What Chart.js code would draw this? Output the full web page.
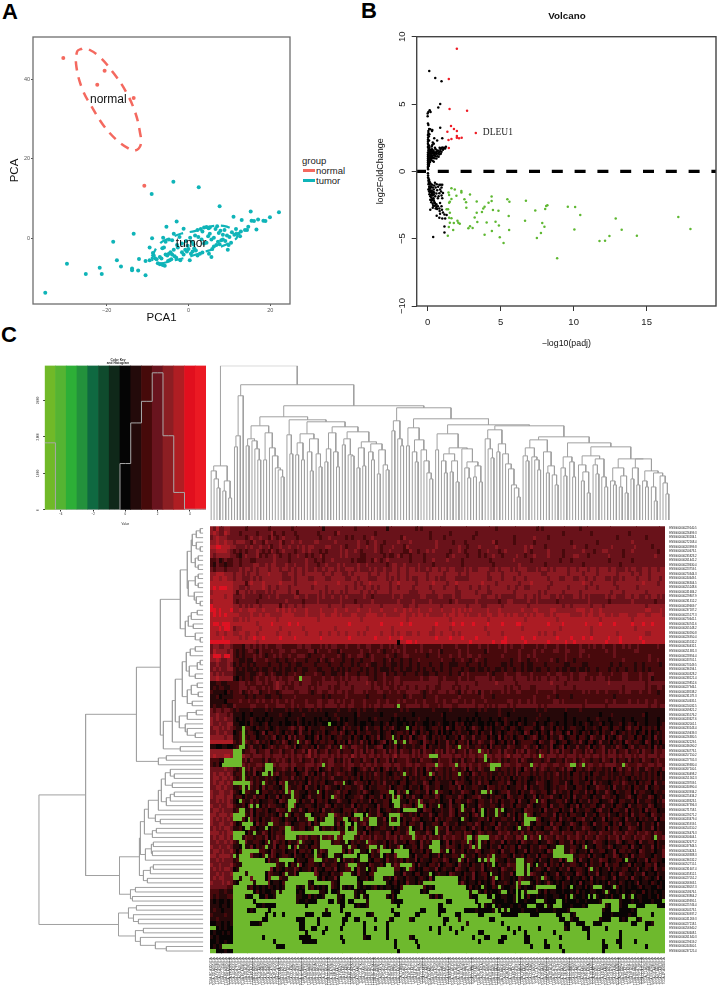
<!DOCTYPE html>
<html>
<head>
<meta charset="utf-8">
<title>PCA, volcano and heatmap</title>
<script src="https://cdn.jsdelivr.net/npm/chart.js@4"></script>
<style>
  html, body { margin: 0; padding: 0; background: #fff; }
  #page { position: relative; width: 720px; height: 987px; overflow: hidden; font-family: "Liberation Sans", Arial, sans-serif; }
  canvas { position: absolute; }
  .letter { position: absolute; font-weight: bold; font-size: 22px; line-height: 22px; color: #000; }
  .leg { position: absolute; font-size: 9.5px; line-height: 10px; color: #222; white-space: nowrap; }
  .swatch { position: absolute; width: 12px; height: 2.5px; }
</style>
</head>
<body>
<div id="page">
  <div class="letter" style="left:2px;top:1px">A</div>
  <div class="letter" style="left:361px;top:0px">B</div>
  <div class="letter" style="left:1px;top:324px">C</div>
  <div class="leg" style="left:302px;top:156px">group</div>
  <div class="swatch" style="left:303px;top:169px;background:#f4695f"></div>
  <div class="leg" style="left:316px;top:166px">normal</div>
  <div class="swatch" style="left:303px;top:179px;background:#0fb4b8"></div>
  <div class="leg" style="left:316px;top:176px">tumor</div>
</div>
<script>
// ---------- panel A: PCA
const pcaTicksX = [-20, 0, 20];
const pcaTicksY = [0, 20, 40];
const pcaNormal = [[-30.6,45.3],[-20.5,42.1],[-22.3,38.6],[-13.4,35.3],[-10.8,13.3]];
const pcaTumor = [[-35,-13.6],[-29.7,-6.3],[-25.1,-8.9],[-21.2,-8.9],[-21.7,-7.3],[-18.4,-0.8],[-17.5,-5.4],[-16.5,-7],[-13.8,-7.5],[-13.8,-7.9],[-12.3,-8],[-10.5,-9.2],[-13.4,1.2],[-12.1,-5.1],[-10.5,-5.6],[-9.5,-5.4],[-8.9,0.1],[-9.5,-2.2],[-9,11.2],[-3.7,14.3],[2.5,12.9],[7.6,8.1],[15.2,6.8],[22.1,6.6],[19.9,5.4],[11,5.5],[13,4.7],[17,4.8],[15.4,4.5],[16,4.4],[18.3,4.5],[18.8,4.4],[16.6,2.3],[14.6,3],[14.3,2.2],[13.8,2.2],[-2.9,4.3],[-5.4,3],
  [-8.7,-3.6],[-8.5,-4.2],[-8.2,-4.9],[-7.8,-5.2],[-7.5,-6.2],[-7,-6.4],[-6.3,-6.6],[-5.8,-6.8],[-7,-4.6],[-6.6,-5],[-6.4,-2.4],[-6,-2.2],[-5.6,-4],[-5.2,-4.2],[-5,-5.6],[-4.6,-5.4],[-4.2,-5.2],[-4.8,-3.8],[-4.4,-3.4],[-4,-4],[-3.6,-2.8],[-3.4,-4.4],[-3,-4.8],[-2.6,-2.2],[-2,-5.4],[-1.6,-3.4],[-1.2,-4],[-0.8,-2.8],[-0.4,-3.2],[0,-2.6],[0.3,-5.4],[0.6,-3.8],[1,-3.2],[1.4,-2.4],[1.8,-3],[2.2,-4.2],[2.8,-3.8],[3.4,-3.5],[3.8,-1.2],[4.4,-1],[5,-3.8],[5.6,-4.6],[5.8,-2.6],[6.2,-2],[6.8,-1.6],[7.2,-0.8],[7.6,-1.4],[8,-0.4],[8.4,-0.2],[9,-0.6],[9.6,-2.8],[9.8,-1.6],[10.4,-1],[4.8,0.6],[5.2,1.2],[5.6,-0.2],[6.2,0.2],[6.6,2.4],[7,3.1],[7.4,1.4],[7.8,2],[8.4,1],[8.8,2.2],[9.4,0.8],[10,0.4],[10.6,1.6],[11.2,1],[11.6,2.4],[12.2,1.2],[12.6,0.6],[12.8,1.8],[1.6,0.8],[2.2,2.2],[3,2.4],[3.4,1.8],[3.8,2.8],[4.4,2.9],[4.9,2.6],[5.2,2.8],[2.4,0.4],[3.2,-0.2],[0.4,0.2],[0.8,-0.8],[-0.6,-0.6],[-1.2,2.5],[-2.2,0.4],[-3.6,1.2],[-4,-0.4],[-4.8,-0.2],[-5.6,-0.8],[-6.2,0.2],[-2.8,-1.6],[-1.6,-1.2],[-0.2,-1.8],[1.2,-1.4]];
const pcaNormalEllipse = [[-26,47.7],[-27.2,47],[-27.4,43.2],[-25.9,37.4],[-23.7,33.2],[-20.9,28.6],[-17.6,24.8],[-14.8,22.7],[-13.1,22.1],[-11.7,23.5],[-11.9,26.9],[-13.1,31.9],[-15.3,36.9],[-18,41.1],[-21.7,45.6],[-24.8,47.7],[-26,47.7]];
const pcaTumorEllipse = [[-9,-4.5],[-7,-1.2],[-4.2,0.3],[-1.7,1.3],[1.5,1.9],[5.2,3],[8.5,3.2],[10.9,2.2],[11.9,0.5],[10.1,-1],[6.8,-2.4],[3.6,-3.4],[0.3,-4.5],[-3.7,-5.5],[-7,-6.2],[-8.6,-5.8],[-9,-4.5]];

// ---------- panel B: volcano
const volcTicksX = [0, 5, 10, 15];
const volcTicksY = [-10, -5, 0, 5, 10];
const volcUp = [[2,9.1],[1.45,6.85],[1.5,4.63],[2.7,4.5],[1.6,3.37],[1.8,3.14],[2,3],[1.35,2.95],[3.3,2.85],[2,2.62],[2,2.5],[1.63,2.4],[1.43,2.33],[2.15,2.45],[2.33,2.5],[1.45,1.73]];
const volcDown = [[1.63,-1.26],[1.86,-1.34],[2.31,-1.46],[2.31,-1.58],[2.9,-1.71],[1.43,-1.58],[1.47,-1.76],[1.97,-1.81],[4.38,-1.86],[1.63,-2.05],[2.52,-2.08],[5.46,-2.08],[6.73,-2.18],[5.6,-2.25],[3.36,-2.23],[4.38,-2.2],[1.52,-2.25],[1.47,-2.33],[2.63,-2.3],[4.17,-2.33],[8.2,-2.52],[8.12,-2.57],[9.6,-2.62],[10.1,-2.65],[3.9,-2.62],[3.81,-2.75],[2.65,-2.7],[8.05,-2.8],[7.37,-2.9],[4.47,-2.87],[4.85,-2.92],[3.72,-3.02],[3.36,-3.07],[1.52,-3.07],[10.45,-3.24],[5.55,-3.32],[3.22,-3.42],[1.47,-3.44],[1.63,-3.49],[1.4,-2.82],[1.3,-2.82],[12.88,-3.51],[17.17,-3.39],[6.67,-3.66],[4.65,-3.74],[2.04,-3.66],[3.4,-3.76],[4.04,-3.79],[2.1,-3.81],[2.2,-3.89],[1.79,-3.84],[1.52,-3.81],[7.85,-3.84],[4.88,-4.03],[8,-4.11],[1.45,-4.13],[2.9,-4.08],[2.79,-4.23],[3.08,-4.2],[5.58,-4.36],[10.05,-4.31],[13.29,-4.33],[18,-4.28],[1.75,-4.36],[4.4,-4.43],[7.76,-4.58],[3.9,-4.7],[1.38,-4.78],[12.45,-4.8],[14.33,-4.78],[4.94,-4.9],[7.48,-4.95],[12.15,-5.15],[11.77,-5.17],[5.2,-5.32],[8.87,-6.46]];
const volcFlat = [[0.11,7.45],[0.52,6.93],[0.95,6.7],[0.86,5],[0.73,4.75],[0.14,4.53],[0.05,4.4],[0.2,4.4],[0,4.3],[0,4.1],[0.86,3.24],[0.02,3.55],[0.05,3.45],[0.1,3.15],[0.18,3.12],[0.05,3],[0.3,3],[0.32,3.08],[0.05,2.85],[0.02,2.7],[0.12,2.75],[0.08,2.6],[0.03,2.5],[0.45,2.45],[1,2.45],[0.02,2.35],[0.1,2.3],[0.65,2.3],[0.02,2.2],[0.35,2.15],[0.42,2.05],[0.02,2.05],[0.05,1.95],[0.1,1.9],[0.32,1.95],[0.28,1.85],[0.82,1.75],[0.92,1.72],[1,1.78],[1.12,1.75],[1.25,1.82],[1.2,1.7],[1.05,1.6],[0.5,1.75],[0.55,1.65],[0.02,1.8],[0.06,1.7],[0.12,1.75],[0.2,1.6],[0.3,1.65],[0.4,1.55],[0.7,1.55],[0.85,1.5],[0.95,1.45],[0.6,1.45],[0.45,1.42],[0.35,1.48],[0.25,1.45],[0.15,1.5],[0.05,1.55],[0.02,1.4],[0.1,1.35],[0.18,1.32],[0.28,1.3],[0.38,1.32],[0.5,1.3],[0.62,1.28],[0.72,1.34],[0.8,1.25],[0.9,1.3],[0.02,1.25],[0.08,1.2],[0.14,1.18],[0.22,1.2],[0.32,1.16],[0.42,1.18],[0.52,1.14],[0.66,1.12],[0.75,1.08],[0.02,1.1],[0.06,1.05],[0.12,1.03],[0.2,1.05],[0.28,1],[0.38,1],[0.48,0.98],[0.6,0.95],[0.02,0.95],[0.05,0.9],[0.1,0.88],[0.16,0.9],[0.24,0.85],[0.34,0.78],[0.42,0.72],[0.02,0.8],[0.05,0.75],[0.1,0.72],[0.16,0.7],[0.02,0.65],[0.05,0.6],[0.1,0.55],[0.02,0.5],[0.05,0.45],[0.08,0.4],[0.02,0.35],[0.02,0.25],[0.03,0.15],
  [0.02,-0.15],[0.03,-0.3],[0.03,-0.45],[0.06,-0.55],[0.1,-0.65],[0.05,-0.7],[0.14,-0.8],[0.08,-0.85],[0.2,-0.9],[0.12,-0.95],[0.3,-1],[0.5,-0.85],[0.62,-0.95],[0.8,-1],[0.9,-1],[1,-1],[0.45,-1.05],[0.18,-1.1],[0.25,-1.18],[0.12,-1.25],[0.35,-1.2],[0.55,-1.2],[0.72,-1.15],[0.95,-1.2],[0.05,-1.35],[0.15,-1.4],[0.28,-1.42],[0.42,-1.35],[0.65,-1.4],[0.85,-1.35],[0.92,-1.5],[0.18,-1.55],[0.3,-1.6],[0.45,-1.58],[0.6,-1.65],[0.8,-1.62],[1.05,-1.6],[0.12,-1.7],[0.22,-1.75],[0.35,-1.8],[0.52,-1.85],[0.75,-1.85],[0.95,-1.8],[0.25,-1.95],[0.4,-2],[0.18,-2.1],[0.3,-2.15],[0.42,-2.15],[0.7,-2],[1,-2],[0.25,-2.3],[0.5,-2.35],[0.35,-2.4],[0.6,-2.45],[0.85,-2.35],[0.48,-2.55],[0.6,-2.65],[0.7,-2.6],[0.55,-2.75],[0.65,-2.8],[0.8,-2.75],[0.95,-2.6],[0.18,-2.85],[0.35,-2.7],[0.82,-2.95],[0.98,-2.85],[1.05,-3.05],[1.15,-3.2],[0.85,-3.15],[1.3,-3.25],[0.62,-3.3],[0.8,-3.45],[1,-3.5],[1.2,-3.5],[1.15,-4.1],[0.38,-4.88],[1.15,-4.55],
  [0.08,1.62],[0.16,1.42],[0.24,1.55],[0.34,1.38],[0.46,1.22],[0.56,1.38],[0.66,1.52],[0.78,1.42],[0.88,1.62],[1.1,1.7],[0.22,1.12],[0.3,1.08],[0.12,1.45],[0.04,1.15],[0.15,0.98],[0.07,0.82],[0.06,-0.95],[0.1,-1.15],[0.16,-1.28],[0.22,-1.5],[0.1,-1.5],[0.38,-1.52],[0.28,-1.72],[0.18,-1.85],[0.42,-1.7],[0.32,-2.05],[0.24,-2.15],[0.45,-2.28],[0.38,-2.55],[0.55,-2.5]];
const volcCutoff = [[-0.75,0],[19.75,0]];

// ---------- panel C: colour key
const keyValues = [-4.667,-4,-3.333,-2.667,-2,-1.333,-0.667,0,0.667,1.333,2,2.667,3.333,4,4.667];
const keyColors = ['rgb(112,185,40)','rgb(85,180,50)','rgb(45,175,55)','rgb(35,145,60)','rgb(15,105,65)','rgb(15,75,45)','rgb(15,40,25)','rgb(5,5,5)','rgb(35,10,10)','rgb(70,10,10)','rgb(105,20,30)','rgb(140,30,35)','rgb(175,30,35)','rgb(225,15,30)','rgb(235,25,35)'];
const keyCounts = [1836,0,0,0,0,0,0,1270,2380,2970,3750,2030,480,20,20];
const keyTicksX = [-4,-2,0,2,4];
const keyTicksY = [0,1000,2000,3000];

// ---------- panel C: heatmap, 0 = black .. 6 = bright red
const cellColors = ['rgb(8,4,4)','rgb(38,8,9)','rgb(72,9,12)','rgb(105,18,26)','rgb(140,26,34)','rgb(172,28,36)','rgb(222,18,34)'];
const lowColor = 'rgb(110,185,45)';
const heatRows = [
// 0
'43533443333323333333233333332333333333313333333333233333333331333333333232333333333333333333333333323333333333333232333333333333233333333333333333333333333333',
'45433543332333332333342332333233333332333332433333333333323333333333333333332333333233333333233333333333333333333333333333233333333323333333333332333333333333',
'34544433333323433433243234333323333333233433333232333233433333333324333333332333323333333332333333333333323333334333323333333333333333333333323333333332333333',
'44544544344433243324333342334334333344333334333333343323343323333433343333333343333323332333333333423333323333332333333333333233333333233333333333433333333333',
'55665554433343433433423343343343434433334433343233343343343233343332433333333343333333433233343333343333333334343333233333333343332333333334333333343333323333',
'44555543232323334323243234333233434333232333343433432333343233433332243323343433333233432333323343332343333334323333343333233333343332334433333233433333333233',
'43444443321343334232334323323343323233423333343433332233333323223423323333233333332343333233323233433233334332334333343333233344333233333343333233333333334333',
'22312322332333223333334333323333343323323343333332322233243234333333323333233433334333323333333332333333343333323333333332333233333333333323333333233333333333',
'21322122332333344334344333433433343332334333434333343343333332344334333343333233333333323333333333233333333433333333233333333333323333333333332333333333333333',
'32333233334344343444344434434344343343343443433444343334343343344344344343343443443443334343344443343444343444333434434344443443444344344434433343443344344344',
// 10
'44555444344343443444544443344344344444434434443343444443443443444344344444434444434444344344444434444344444344444443344444443444434444344444434444344344344444',
'45545544344333434344444443334344443344443344444334434443334443434344343344434434334443333344444433444344434443444444434443344433443443444334334344443444344434',
'55555555444424544454444454444344444454444444544444343445444444344544444344444544443445444444445444434444444344454444443444444444454434444444344444444454444344',
'56566655443343444454344344434444444344443444444344344344343444344344443444443444434443444434434434444443443443344444434444443444443444344444434444443444444444',
'45555555424434343334343444434424444444343434434344443443434444344444433344444344444443344444344433444444434444444434344444344444344444444443444344444443444444',
'55555455333433333233433433333443343334343343343433333433233333343343333334433334433343344444443344434333334443443434443343433344343433333434433344344334344343',
'45555555323333332333333333433333233334333333343333233333433333333433334333334333333234333333433333332334433333433433333323333333333433333323333333433333332333',
'65555555443434344344444424344344344444444344443444443444444344444443344344444444344444444344443344444344444444344444444444344344444434443444444444444443444444',
'66565556445445554454444545454544454444544445444544454445444544445445454454445444544454545454444454445444444454445544445544444445554454454444444444444445544454',
'56565655554444544545544445555444454444554455454445544455554454444455445455454444454554554544454455445545455445454555445455555444454554455445445554445554455554',
// 20
'55555555445454555555555455555555555554555555555555554555555555555555455555555555555455555555555545555555555554555555555545555555555555545555555555455555555555',
'56656665555555554555565555565565555555555555555565555555555655555565565555555565555565565556555565555655556655555555565555655555556555565555655555655565565555',
'55565665344555555455555545555555455555555554555555555545555555545555555555555455555455555555555455555555555545555555555554555555555545555555555555545555555555',
'55455455445544554555555455545555545555455455455455545455555455545455445545554455455545455555555545555455555555555545455455555555555545555555545555555554455555',
'55556555554545565565555565555655555555655555555565555555565555655565555555555565555655565555655555555565555565556555555565555655565565555565556555555655555555',
'66666665555555554555555555555555555555555555555555555555555555555055665655555555555555555565555555655665555556555555565555565565555555555655556555555565555555',
'34433443222133232323222332222233233222323233222322232233222322323223222223222222322223222322232232223232322232222322322232232222322323223222322323223222222322',
'35444434212123321322232233223322223313222322132222223223223212232323222323223223122222322322222132222232222322223223222332233222332222222322322222233222222222',
'46664664212122232321223232232233321222232222321232233212322223221223322222212223222322322332232222222322222322323222222222232222322322222222322222222222322222',
'44543344221121132223222122122322212221321232221221221222322212312212212232222222322212232212322122222222122322122322223212232212222222222222222322222222322322',
// 30
'33433343121221212222122212212211222212222122212221212232112212211212212212221222122111222122212122222112122212112222122222211222211222222221221222212212222212',
'34343344212121121211221212112122112221122212121212221212212111212212112212122122122122212211211212211212212212112112212212112112112122122212212212212212122222',
'43434333211122112321232112122322122232212211221322212212212231221221222122112212222122132322222232122232223322232222232233222322333222232223222332222322332222',
'44544444102122123223233232233222333222232232232323323332212232223322222223223332232222322322333332322233323333232323323323332322332232333232222332222322312222',
'11221122223323223323223433232332333223233333233233333343232232323323333333333332333332333333233333343333332333333333334333323333333333333343333333333332333333',
'12122112223332332232323432322333332323333232233332333333233233223233233233323322333323233233333333333323233233322333333323333323333333333333333233333332322332',
'21111021223123233122322123333223332123322332332322333232223322322322333332123223332332132332313223222323223322222322222322222222232322322322223233222322322122',
'11201111222212212221122212222322222222212122222322222212222212222221232222122232222222322222223222122222222222223222232212222122222222222222122222222222222222',
'11111022223223223232232322323222232223322332323223222322223223222323222322322232232233223223222322222223322322323222222332322222223222222322322223223223223222',
'12112211322222332223222333223232233323323333233233222323233233332322333332332223233322333333233232323332323333333323233333333333323333333233333333333333233233',
// 40
'32332332121111211112121111212112112121211111211121121211121111111121211111111211111211111211121211112111121111111211211111121111211111111111111111111111111111',
'33433323111011011110111121101111211111110112111111021111111011112111110111111111201111111111011111112110111111111121111111101111111111101112111111111120111111',
'43433433101011210101101111011121011101011011201011011110121111101010111121101111101111011010101110110121111010111211101111101101111011211101111011011110111011',
'43343344110010211012011101001021010101100100101211010011011012011001010211001012100102120101100101021021010210112011012101101101012101120110112012102110111012',
'34434343211322102112101211123213202111221112013121120131122021231011202212101221203102212013210212011210221012221013112021201221102112102210221023122021212022',
'33433433012112210130221210212013112012120122132012021122112012201221203102120120201021211201202113012012212103201202103122013021021201202113201212120120201212',
'44444344112021220112123012031312201023021201221120210201213012201202130122310212120112032113112202103021201220123201202113201220221032113021023112202201203112',
'55555555212132123121201213201232132021221220212031213120201230212120132210321202113120221302132113201202130122221032113201220121310220131120212032122103201202',
'11001100123012311201232122321301221203112312113213322131123301213012112112302112113212122311221203122113221123212301213012302113112302123112132102311221203121',
'44444444323122331223312231223122314231223122312221323132312231323132213231322132313231223132213231223132213231322132213231322132213231223132312231223132213223',
// 50
'45444554332433233323323332323233234232333232323324323323323233234233323232332332333323323233233233233234233323323234233323323332323323323233323233232332333233',
'22211100212231322213122323213223122312322331213231221322131223131222321213222113222312131223122113223121223132112221231122132231232212213221312213122132212322',
'21200000222323223323233233323322233323332332223233223233232233323322332332233323322333233232232233323233223322233323322332233332322332232333322332223322332332',
'33333433212023132213131223213022132123012312212231012321312023121321212312032132212132123032132112321221213203213123212212313202212321221213023123123113212213',
'34344343122112130122122312112201231202131212322121021212132121012121212312022312212122121203212212112121213122212122121231212022121202211212112122122121212021',
'34434434212021212112121012213121202122121231112212120212122121212212021212212021212122121012121212021212021212101212121221212122120212112212121210212121212121',
'34344343221201312122112032211212103121220113221101322120212131121022012211320122111203221102131220112213102212011322101221131022112203121101221321120212203112',
'33443433112210212031221102121122031120213211021221123102112221301221021120231122011221302112211032212120112213021122101212231102212011322120311212022113012211',
'43344334210122113022112121031221102113202112312201121321011222110312201221130212211021132210211322101223112021132112201312112022113120211321021122031221102112',
'43444344122021131220211302112221013112202113212011223102211302112120213110221132012211320112231102122103211220113021223110212031122102113221201123102211320121',
// 60
'33434343102211312011221032112120211302212011321102212113021122013211021203112212011302211321022113120211220311022113201122131020211312201123102211203112210213',
'43343344211203112021322110212301122102113202112113021221103122012113220211302112201311220211032112210311202211320112203112210213021122013112022103112211320112',
'34434333120211302212011322102113102212031121102221311202113012211203212110322011211320212113021021132201121103221120311220211302112210231120221130211203122011',
'44344434011221302112121031120221132011221103212120311022113201122031121202113102211320211202311021122103120211320112211302120221103112022131102120311221032112',
'43434343112201312021132210211031122120211301221102311220121130221102113220112031212211032101122130211221130210211320112203112102231120113021221031120212113022',
'43344334201122103121102211320112213021102211302120112310221121302112022113011221032112011221320112203112112021310221103122011321022103112210213022113021120311',
'34343443112031220113021122103112201213021120211302211032011221130211220113021102213021122013120211032121102211302110221320112021132210112031220113221021130211',
'44434344211302121132021221131022103212211321022113221302122113202211321221132022113212213220132122113223122131221322113221322213221322132221322132213223213221',
'34344343122132212213021322132213231221322321322132213223132213223132221322313223132232213231322132232132213322132231322132213223213221322132231322132232213223',
'33433434212031122102113212021132211021320112211302121103221120213112022103121122013021122130211202211302112032112201132102211302120113221021132012210311220211',
// 70
'43343343110211302120113022110321120221130211021132201121031220211320112203112102113221021130221102113021220311021132201120311221032110221132011220311021130212',
'34434334202113011221032112011302212011321021122031121102213021102211302112021132211031120211320112210311220113021121032210211320112031122011302212110321120113',
'44344443011220311021132012210311021132201121103212201130211202113012210311220113021122103112021132011221031120211302211032112011221302110211320120311221102113',
'33434333120113021120311220113021102213012112203112011321022103112120211302110221132011220311021130221102113201221031102113021220311021132201122031102113022110',
'43343334211032110221130211202113012211031122011302121103211202113201122031102213012210311202113021102113221031120211302120311221013021120311220113021102213011',
'34343443011203112201130210211320112031102213011221031120211302112201132010221130121103211022113012110321120211301221031102113012210311201130211220113012103112',
'33434334102113011210321102211301211032011021130121031102201130121103110220113012110321102113012203110211301121032110201130121103210211301102103211021130110211',
'34344333011021301120310121101301210311020113011210301120113011203110211012103011210311012013011201310211010321101210310121013011021030112101301120311012101301',
'43334343100211012101301102110130121010311021012101310110210131012010311021010321010210131011020101301121010311010210131010211010301120101031102101013011021010',
'33333322011001201010210101020110101201010021011010210100120101101020100110201010021011001020101100210100110201001020110100210101102010011001020101001201100210',
// 80
'22211211100110102010011010021001010200110100101200101001102001010010110020100101001020110010010201001100102001010010201100100102010011001020010100110020101001',
'21211122010010011002001001010011002010010100110020100101001001020010011001001020100100110010020100100110010010200100100110020010010100100102001001001100100201',
'10100101001001000100100100010010010001001000100100100010010100010001001000100100010010001001000100100010010001000100100010010001001000010010001000100100010001',
'11101101000100100010000100100001000100100010000100010010000100100001000100010010000100001001000100001000100100001000010010000100010000100100001000100001001000',
'12110111100000100001000100000100001000001000100000100001000001000100000100001000001000100000100000100010000010000100000100001000001000001000100000100000100001',
'21111211000100000100000010000100000001000010000001000000100001000000100000010000100000010000000100001000000100000010000100000010000100000001000001000000100000',
'11211111000001000000100000000100000010000000010000001000000000100000010000000100000000100000100000000010000001000000000100000100000000010000000100000100000000',
'00110101010000000100000000001000000000100000000010000000001000000000010000000001000000000100000000001000000000010000000001000000000100000000000100000000010000',
'10010100000000100000000000100000000000010000000000100000000000100000000001000000000000100000000000010000000000100000000000010000000000100000000000010000000000',
'01001010000000000001000000000000000100000000000000010000000000000100000000000000010000000000000001000000000000000100000000000000001000000000000000100000000000',
// 90
'10100000000000001000000000000000000100000000000000000100000000000000010000000000000000100000000000000000100000000000000010000000000000000010000000000000000100',
'00100100000000000000010000000000000000000010000000000000000000100000000000000000001000000000000000000000100000000000000000001000000000000000000100000000000000',
'01010000000000000000000000000100000000000000000000000000100000000000000000000000001000000000000000000000000010000000000000000000000100000000000000000000000000',
'00000100000000000000000000000000000000000000000000000000000000000000100000000000000000000000000000000000000000000000000000000000000000000000100000000000000000'
];
// green cells: row, then start,end column pairs
const lowCells = [
[33,31,31],[39,65,65],[43,41,41],[44,11,11,68,68],[45,11,11],[46,11,11,63,63],[47,11,11,30,30,64,64,67,67],[48,10,11,45,45,86,86],[49,8,10,93,93],
[50,8,10,76,78,95,95,114,114],[51,5,10,95,95],[52,4,10,19,21,39,39,78,78,85,85,97,100,111,111,125,126,129,129,143,143],[53,11,11,19,21,97,98],
[54,11,11,18,19,21,21,67,67,76,76,86,86],[55,11,11],[56,8,13,18,18,26,26,46,46],[57,11,11,13,13,26,26],[58,11,11,16,16,26,26,28,28,37,37,62,63,68,68,78,78,94,95,97,97],
[59,28,28,42,42,63,63,65,65],[60,10,10,27,29,63,65,72,72,113,113],[61,14,14,16,16,27,28,64,65,72,73,79,79,87,87],[62,10,11,27,27,67,71,87,87,94,94,99,99,101,101],
[63,8,11,26,26,33,34,41,42,50,52,54,54,62,65,94,94,99,99,109,109],[64,8,10,13,13,34,35,40,42,46,47,52,52,55,57,62,62,65,65,87,87,109,112],
[65,11,14,20,21,38,42,47,48,50,50,55,57,62,65,109,110],[66,12,13,19,19,26,27,36,37,47,47,50,50,69,69,78,78,107,107],
[67,8,11,15,15,26,36,37,44,47,50,69,70,78,78],[68,8,10,26,29,38,38,43,43,46,49,70,70,89,90,93,96,109,109,114,114,154,154],
[69,10,11,20,20,31,31,38,41,47,47,54,54,77,79,89,89,93,93],[70,11,11,19,19,27,27,30,30,38,45,48,48,55,57,59,59,66,66,76,79,91,91,93,93,120,121,122,122,130,130],
[71,11,16,36,36,41,45,50,51,55,55,59,62,64,68,77,79,82,82,119,122],[72,8,8,10,13,19,19,36,36,41,42,46,50,52,54,59,59,65,68,87,87,98,98,119,122,123,125],
[73,10,18,24,28,36,38,44,44,52,54,86,86,93,93,95,95,97,98,106,108,124,125,144,144],[74,11,22,26,26,30,30,48,50,61,62,66,69,98,98,106,108,110,110,113,113],
[75,10,20,49,49,54,54,58,63,68,68,106,108,110,110,132,132],[76,8,11,13,18,26,26,31,35,46,48,57,63,76,76,97,97,106,108,110,110],
[77,8,9,11,13,15,18,21,23,27,36,45,50,57,59,78,85,99,99,115,115],[78,10,14,16,19,26,33,36,41,45,50,53,60,74,77,78,85,106,106,108,110],
[79,8,12,26,29,33,33,41,41,45,45,50,50,67,73,78,88,94,94,100,100,106,106,113,119,125,125,133,135,140,140],
[80,8,14,23,23,25,29,33,37,41,41,45,49,54,62,66,72,76,89,91,92,101,102,106,106,108,108,110,113,137,137],
[81,8,11,15,16,23,29,40,43,47,49,52,52,55,60,65,75,81,89,93,95,98,98,106,106,108,108,125,125,131,131,133,133,143,143,146,146],
[82,8,14,16,29,37,40,43,43,47,47,50,53,55,62,67,81,84,91,93,97,106,106,113,115,120,121,136,138,139,141,157,157],
[83,8,15,23,32,34,44,47,49,55,64,66,78,81,92,94,94,98,98,110,112,116,116,119,121,131,136,139,141,145,147,151,154],
[84,8,12,16,19,21,39,41,44,46,62,64,72,75,78,82,87,99,99,101,101,103,103,125,135,139,141,148,157],
[85,8,18,20,21,23,24,26,32,36,38,42,46,49,53,57,63,66,70,73,78,80,84,87,92,95,100,107,110,114,119,122,124,127,135,148,152,154,157],
[86,8,17,20,29,33,36,38,45,48,49,52,56,58,61,64,68,71,80,83,85,87,96,99,120,123,124,128,134,139,141,145,147,150,157],
[87,8,13,18,30,33,36,38,45,47,52,54,60,62,80,82,88,90,100,102,122,125,126,130,132,136,145,148,150,154,157],
[88,0,1,8,30,33,34,37,39,41,44,46,52,54,56,58,60,62,75,77,78,80,82,84,86,88,102,104,106,108,113,115,122,125,128,132,136,138,150,152,157],
[89,8,32,34,38,40,52,54,60,62,78,80,84,86,92,95,104,106,108,110,118,120,130,132,141,143,157],
[90,8,17,19,30,35,44,46,52,56,60,62,68,71,90,92,94,97,100,103,108,111,120,122,130,132,141,143,157],
[91,8,21,23,31,37,45,47,63,65,70,72,92,94,99,102,108,111,115,117,135,137,140,143,146,148,157],
[92,4,7,8,22,26,63,65,71,73,110,112,115,118,120,122,135,138,141,143,150,152,157],
[93,0,1,8,64,66,121,123,135,137,157]
];

// leaf labels
const rowIds = ['229140.5','226499.3','233184.1','272168.4','203999.8','250673.1','235823.2','261441.2','228630.4','223759.1','270344.3','244649.1','236304.5','255248.6','241684.2','229807.9','231312.2','249669.7','237187.2','225177.3','270641.1','234741.6','265148.2','230590.8','226950.4','245532.2','230432.1','251381.3','228956.4','243701.1','273149.5','236194.1','260328.2','238121.4','229852.6','227946.1','248538.2','231178.3','254635.1','224032.5','269821.2','235576.2','243627.6','262001.1','233143.4','259439.3','226380.5','232229.1','246090.2','234773.1','257150.2','227705.3','239380.4','267100.1','230498.2','251562.3','228709.1','240990.4','263934.2','225434.2','248323.1','237396.3','271758.1','229271.2','243479.4','235919.1','254510.2','226476.3','260604.1','232677.2','247844.5','224424.1','268388.3','236532.2','252715.1','231607.4','245812.1','227051.2','266903.1','238057.3','258676.1','233864.2','249395.1','225746.4','264573.1','230937.2','241269.3','227218.1','256940.2','234608.1','261340.3','229619.2','244300.1','237125.4'];
const rowLabels = rowIds.map(id => 'ENSG00000' + id);
const colIds = ['BC-A10Q','DD-A1EG','FV-A23B','ES-A2HT','CC-5258','BD-A3ER','DD-A39W','EP-A26S','G3-A25X','ED-A7PX','DD-A1EJ','BC-A10W','DD-A116','FV-A3R2','BD-A2L6','CC-A3M9','ED-A5KG','G3-AAV4','DD-AAE9','BC-A3KF','UB-AA0V','RC-A7S9','ZP-A9CV','CC-A7IH','DD-AACS','ES-A2HS','G3-A3CG','EP-A12J','DD-A3A2','CC-A8HT','BD-A3EP','LG-A6GG','RC-A6M4','MI-A75E','DD-AAD8','ED-A8O5','DD-A4NA','ZS-A9CD','BC-A69H','GJ-A6C0','CC-A5UC','DD-A4NF','UB-A7MB','MR-A8JO','DD-AACH','FV-A4ZP','ED-A66Y','G3-AAV6','BC-A216','EP-A3RK','KR-A7K2','DD-AAW3','CC-A7IK','2V-A95S','DD-A1EC','ES-A2HU','RC-A7SK','HP-A5MZ','DD-AAVW','ED-A97K','PD-A5DF','CC-A123','BD-A3EP','DD-AADL','G3-A7M5','LG-A9QC','T1-A6J8','XR-A8TE','DD-A73F','BC-A112','ED-A627','MI-A75C','DD-A4NK','CC-5264','FV-A495','G3-AAV2','DD-AADG','EP-A2KC','O8-A75V','RG-A7D4','DD-AAE3','ZS-A9CG','ES-A2HY','BD-A2L9','CC-A5UD','DD-A115','UB-A7MD','G3-A25V','DD-AAVP','ED-A7XP','K7-AAU7','DD-A3A7','FV-A3I1','BC-A3KG','DD-A11A','CC-A9FU','RC-A6M6','WQ-A9G7','DD-AAD1','G3-AAUZ','ES-A2HX','DD-AACW','ED-A66X','MR-A520','CC-A8HU','BD-A2L7','DD-A1EF','LG-A6GK','TV-A8XZ','DD-AAVQ','EP-A2KA','DD-A3A6','2Y-A9GV','CC-A7IJ','G3-A5SK','DD-AAEB','FV-A3R3','BC-A3KH','DD-A118','RC-A7SH','ED-A7PZ','ZS-A9CF','DD-AACV','UB-A7ME','CC-A8HV','DD-AAE6','ES-A2HV','G3-AAV7','MI-A75G','DD-A4NG','BD-A3EQ','CC-A3MA','DD-AADI','XR-A8TF','DD-A1EH','LG-A6GH','ED-A66Z','DD-AAW0','PD-A5DE','G3-A7M6','DD-A3A3','CC-A3MB','FV-A4ZQ','DD-AACT','BC-A217','DD-A39Z','EP-A3JL','DD-AAD5','RG-A7D5','CC-A1HT','DD-A11C','T1-A6J9','DD-AAE2','ES-A2HW','G3-AAV3','K7-AAU6','DD-A4NJ','ZP-A9D0'];
const colLabels = colIds.map(id => 'TCGA-' + id + '-01A');

// ---------- dendrograms: [height, left, right], 0 is a leaf
const topTree = [154,
  [54,[49,0,[41,0,[32,0,0]]],[39,[29,0,0],[22,0,0]]],
  [135,
    [124,[84,[73,0,0],0],0],
    [114,
      [103,
        [94,[81,[74,0,0],[79,0,[71,0,[60,0,0]]]],[87,[60,0,0],[72,0,[64,0,[52,0,[50,0,[43,0,0]]]]]]],
        [100,[85,0,[66,0,0]],
          [98,[86,[77,[65,0,0],[60,0,0]],[81,[68,0,[49,0,0]],[66,0,[53,0,0]]]],
            [93,[87,[71,[58,0,0],0],[68,0,[53,0,0]]],
              [88,[81,[75,0,0],[65,0,[64,0,0]]],[78,[72,[52,0,0],[54,0,0]],[76,[68,0,[60,0,0]],[70,[46,0,0],[55,0,[50,0,0]]]]]]]]]],
      [112,
        [99,[89,0,0],[81,0,[74,0,0]]],
        [101,
          [92,[74,0,0],[80,[68,0,[58,0,0]],[70,0,[59,0,[47,0,[41,0,0]]]]]],
          [95,
            [86,[70,0,0],[72,[66,[59,0,[47,0,0]],[59,[48,0,0],[38,0,0]]],[71,0,[58,[52,0,[42,0,0]],[54,[43,0,0],[38,0,0]]]]]],
            [94,
              [90,[81,0,[71,0,[62,0,0]]],[76,[68,0,0],[66,0,[56,0,[51,0,[35,0,[32,0,[23,0,0]]]]]]]],
              [83,
                [80,[72,[64,0,[59,0,0]],[63,0,[60,0,[50,0,0]]]],[68,0,[54,[47,0,0],[45,0,[35,0,0]]]]],
                [77,
                  [63,[52,0,[44,0,0]],[58,0,[43,0,0]]],
                  [73,
                    [64,[55,0,[48,[39,0,0],[27,0,0]]],[61,[55,0,[46,0,0]],[43,0,[33,0,0]]]],
                    [61,[52,[39,0,[35,0,0]],[44,[33,0,0],[27,0,0]]],
                      [61,[52,[41,0,0],[35,0,0]],[49,[39,0,[33,0,0]],[47,[33,0,[19,0,0]],[44,0,[37,0,[26,0,0]]]]]]]]]]]]]]]]];

const upperA = [16,[12,[11,[7,[3,0,0],0],[7,0,[3,0,0]]],[8,[5,0,0],[5,0,0]]],[15,[8,[5,0,0],[5,0,0]],[9,0,[7,0,[3,0,0]]]]];
const upperB = [18,[15,[12,[6,0,0],0],[10,0,0]],[8,0,[3,0,0]]];
const upperC = [21,[17,[13,[8,0,0],0],[14,[6,[3,0,0],0],[8,0,0]]],[16,[12,[6,0,0],[5,0,0]],[11,0,0]]];
const upperE = [24,[16,[7,0,0],0],[18,0,[16,0,[8,0,0]]]];
const upperTree = [67,[43,[23,upperA,upperB],[40,[31,[28,upperC,upperE],0],[23,0,0]]],[45,[37,0,0],0]];
const midG = [45,[42,[38,[33,0,[29,0,0]],[31,0,0]],[37,[33,[29,0,0],0],0]],0];
const midTree = [84,[64,[63,[59,[55,midG,[48,0,[43,0,0]]],[51,[47,0,0],0]],[58,[52,[50,0,0],[51,0,0]],0]],[60,[53,[50,0,0],0],[56,0,0]]],[73,[68,0,0],[71,0,0]]];
const lowTree = [85,[75,[67,0,0],[70,0,[65,0,0]]],[68,[60,0,0],[63,0,[48,0,[37,0,0]]]]];
const leftTree = [165,[118,upperTree,midTree],lowTree];

// ---------- helpers
const page = document.getElementById('page');
const sans = '"Liberation Sans", Arial, sans-serif';
const minus = v => String(v).replace('-', '\u2212');
const toXY = p => ({ x: p[0], y: p[1] });

function addCanvas(l, t, w, h) {
  const c = document.createElement('canvas');
  c.width = w; c.height = h;
  c.style.left = l + 'px'; c.style.top = t + 'px';
  c.style.width = w + 'px'; c.style.height = h + 'px';
  page.appendChild(c);
  return c.getContext('2d');
}

// box round the plot and text tied to data values
const panelDeco = {
  id: 'panelDeco',
  afterDatasetsDraw(chart, args, opts) {
    const ctx = chart.ctx, a = chart.chartArea;
    ctx.save();
    if (opts.frame) {
      ctx.strokeStyle = opts.frame;
      ctx.lineWidth = opts.frameWidth || 1;
      ctx.strokeRect(a.left, a.top, a.right - a.left, a.bottom - a.top);
    }
    (opts.tags || []).forEach(t => {
      ctx.font = t.font;
      ctx.fillStyle = t.color || '#111';
      ctx.textAlign = t.align || 'center';
      ctx.textBaseline = 'middle';
      ctx.fillText(t.text, chart.scales.x.getPixelForValue(t.x), chart.scales.y.getPixelForValue(t.y));
    });
    ctx.restore();
  }
};

function fixedAxis(size, extra) {
  return Object.assign({
    afterFit: s => { if (s.isHorizontal()) s.height = size; else s.width = size; }
  }, extra);
}

function setTicks(values) {
  return axis => { axis.ticks = values.map(v => ({ value: v })); };
}

function treeSegments(tree, flip) {
  const pts = [];
  let leaf = 0;
  const add = (x, y) => pts.push(flip ? { x: y, y: x } : { x: x, y: y });
  (function walk(n) {
    if (n === 0) return { pos: leaf++, h: 0 };
    const a = walk(n[1]), b = walk(n[2]);
    add(a.pos, a.h); add(a.pos, n[0]); add(b.pos, n[0]); add(b.pos, b.h);
    pts.push({ x: NaN, y: NaN });
    return { pos: (a.pos + b.pos) / 2, h: n[0] };
  })(tree);
  return { pts: pts, leaves: leaf };
}

function dendroChart(ctx, tree, flip, padding) {
  const t = treeSegments(tree, flip);
  const leafRange = { type: 'linear', display: false, min: -0.5, max: t.leaves - 0.5 };
  const heightRange = { type: 'linear', display: false, min: 0, max: tree[0] };
  new Chart(ctx, {
    type: 'scatter',
    data: { datasets: [{ data: t.pts, showLine: true, spanGaps: false, pointRadius: 0, borderColor: '#a0a0a0', borderWidth: 1 }] },
    options: {
      responsive: false, animation: false, events: [],
      layout: { padding: padding },
      plugins: { legend: { display: false }, tooltip: { enabled: false } },
      scales: flip
        ? { x: Object.assign({}, heightRange, { reverse: true }), y: Object.assign({}, leafRange, { reverse: true }) }
        : { x: leafRange, y: heightRange }
    }
  });
}

// ---------- A
new Chart(addCanvas(0, 0, 360, 330), {
  type: 'scatter',
  data: {
    datasets: [
      { data: pcaNormal.map(toXY), backgroundColor: '#f4695f', pointRadius: 2, pointBorderWidth: 0 },
      { data: pcaTumor.map(toXY), backgroundColor: '#0fb4b8', pointRadius: 2, pointBorderWidth: 0 },
      { data: pcaNormalEllipse.map(toXY), showLine: true, tension: 0.4, pointRadius: 0, borderColor: '#f4695f', borderWidth: 2.5, borderDash: [9, 7] },
      { data: pcaTumorEllipse.map(toXY), showLine: true, tension: 0.4, pointRadius: 0, borderColor: '#0fb4b8', borderWidth: 2.2, borderDash: [9, 7] }
    ]
  },
  options: {
    responsive: false, animation: false, events: [],
    layout: { padding: { left: 8.4, right: 70, top: 37, bottom: 5 } },
    plugins: {
      legend: { display: false }, tooltip: { enabled: false },
      panelDeco: {
        frame: '#6e6e6e', frameWidth: 1.3,
        tags: [
          { text: 'normal', x: -19.6, y: 34.8, font: '12px ' + sans },
          { text: 'tumor', x: 0.65, y: -1.3, font: '12px ' + sans }
        ]
      }
    },
    scales: {
      x: fixedAxis(21, {
        type: 'linear', min: -38, max: 24.8, afterBuildTicks: setTicks(pcaTicksX),
        grid: { drawOnChartArea: false, tickLength: 2, color: '#555' }, border: { display: false },
        ticks: { font: { size: 5.5, family: sans }, color: '#555', padding: 1, callback: minus, maxRotation: 0 },
        title: { display: true, text: 'PCA1', font: { size: 11.5, family: sans }, color: '#111', padding: 0 }
      }),
      y: fixedAxis(24.6, {
        type: 'linear', min: -16.4, max: 50.6, afterBuildTicks: setTicks(pcaTicksY),
        grid: { drawOnChartArea: false, tickLength: 2, color: '#555' }, border: { display: false },
        ticks: { font: { size: 5.5, family: sans }, color: '#555', padding: 1, callback: minus },
        title: { display: true, text: 'PCA', font: { size: 11.5, family: sans }, color: '#111', padding: 0 }
      })
    }
  },
  plugins: [panelDeco]
});

// ---------- B
new Chart(addCanvas(360, 0, 360, 350), {
  type: 'scatter',
  data: {
    datasets: [
      { data: volcFlat.map(toXY), backgroundColor: '#000', pointRadius: 1.25, pointBorderWidth: 0 },
      { data: volcUp.map(toXY), backgroundColor: '#ee1c25', pointRadius: 1.25, pointBorderWidth: 0 },
      { data: volcDown.map(toXY), backgroundColor: '#5fb832', pointRadius: 1.25, pointBorderWidth: 0 },
      { data: volcCutoff.map(toXY), showLine: true, pointRadius: 0, borderColor: '#000', borderWidth: 3.2, borderDash: [11, 11.8], borderDashOffset: 1.7 }
    ]
  },
  options: {
    responsive: false, animation: false, events: [],
    layout: { padding: { left: 15.6, right: 2, top: 36.7, bottom: 1.6 } },
    plugins: {
      legend: { display: false }, tooltip: { enabled: false },
      panelDeco: {
        frame: '#444', frameWidth: 1.4,
        tags: [{ text: 'DLEU1', x: 3.78, y: 2.9, align: 'left', font: '9.5px "Liberation Serif", serif', color: '#222' }]
      }
    },
    scales: {
      x: fixedAxis(42.4, {
        type: 'linear', min: -0.75, max: 19.75, afterBuildTicks: setTicks(volcTicksX),
        grid: { drawOnChartArea: false, tickLength: 5, color: '#333' }, border: { display: false },
        ticks: { font: { size: 9.5, family: sans }, color: '#222', padding: 6, maxRotation: 0 },
        title: { display: true, text: '\u2212log10(padj)', font: { size: 8.8, family: sans }, color: '#111', padding: 0 }
      }),
      y: fixedAxis(41.1, {
        type: 'linear', min: -10, max: 10, afterBuildTicks: setTicks(volcTicksY),
        grid: { drawOnChartArea: false, tickLength: 5, color: '#333' }, border: { display: false },
        ticks: { font: { size: 9.5, family: sans }, color: '#222', padding: 1, callback: minus, minRotation: 90, maxRotation: 90, crossAlign: 'center' },
        title: { display: true, text: 'log2FoldChange', font: { size: 9, family: sans }, color: '#111', padding: 0 }
      })
    }
  },
  plugins: [panelDeco, {
    id: 'volcanoTitle',
    afterDraw(chart) {
      const ctx = chart.ctx;
      ctx.save();
      ctx.font = 'bold 9.8px ' + sans;
      ctx.fillStyle = '#111';
      ctx.textAlign = 'center';
      ctx.textBaseline = 'middle';
      ctx.fillText('Volcano', 207, 16);
      ctx.restore();
    }
  }]
});

// ---------- C: colour key
new Chart(addCanvas(20, 350, 200, 178), {
  type: 'bar',
  data: {
    datasets: [
      { type: 'line', order: 0, data: [{ x: -5, y: keyCounts[0] }].concat(keyValues.map((v, i) => ({ x: v, y: keyCounts[i] })), [{ x: 5, y: keyCounts[14] }]), stepped: 'middle', borderColor: '#a8a8a8', borderWidth: 1, pointRadius: 0 },
      { order: 1, data: keyValues.map(v => ({ x: v, y: 3950 })), backgroundColor: keyColors, barPercentage: 1, categoryPercentage: 1, borderWidth: 0 }
    ]
  },
  options: {
    responsive: false, animation: false, events: [],
    layout: { padding: { left: 10, right: 14, top: 7.8, bottom: 2 } },
    plugins: {
      legend: { display: false }, tooltip: { enabled: false },
      title: { display: true, text: ['Color Key', 'and Histogram'], font: { size: 3.2, weight: 'bold', family: sans }, color: '#222', padding: 0 }
    },
    scales: {
      x: fixedAxis(16, {
        type: 'linear', offset: false, min: -5, max: 5, afterBuildTicks: setTicks(keyTicksX),
        grid: { drawOnChartArea: false, offset: false, tickLength: 1.5, color: '#333' }, border: { display: false },
        ticks: { font: { size: 3, family: sans }, color: '#222', padding: 1, callback: minus, maxRotation: 0 },
        title: { display: true, text: 'Value', font: { size: 3, family: sans }, color: '#222', padding: 0 }
      }),
      y: fixedAxis(14.7, {
        type: 'linear', min: 0, max: 3950, afterBuildTicks: setTicks(keyTicksY),
        grid: { drawOnChartArea: false, tickLength: 1.5, color: '#333' }, border: { display: false },
        ticks: { font: { size: 3, family: sans }, color: '#222', padding: 1, minRotation: 90, maxRotation: 90, crossAlign: 'center' }
      })
    }
  }
});

// ---------- C: dendrograms
dendroChart(addCanvas(205, 360, 470, 165), topTree, false, { left: 4.7, right: 4.7, top: 5.7, bottom: 5 });
dendroChart(addCanvas(30, 520, 180, 440), leftTree, true, { left: 8.7, right: 6.7, top: 6.3, bottom: 6.7 });

// ---------- C: heatmap, one dataset per colour level
const nCols = colLabels.length, nRows = rowLabels.length;

function cellStamp(color) {
  const s = document.createElement('canvas');
  s.width = 3; s.height = 5;
  const g = s.getContext('2d');
  g.fillStyle = color;
  g.fillRect(0, 0, 3, 5);
  return s;
}

const isLow = rowLabels.map(() => new Set());
lowCells.forEach(r => {
  for (let k = 1; k < r.length; k += 2) {
    for (let c = r[k]; c <= r[k + 1]; c++) isLow[r[0]].add(c);
  }
});

const levelPoints = cellColors.map(() => []);
const lowPoints = [];
heatRows.forEach((row, r) => {
  const full = row.padEnd(nCols, row[row.length - 1]);
  for (let c = 0; c < nCols; c++) {
    if (isLow[r].has(c)) lowPoints.push({ x: c, y: r });
    else levelPoints[Number(full[c])].push({ x: c, y: r });
  }
});

const heatSets = cellColors.map((col, i) => ({ data: levelPoints[i], pointStyle: cellStamp(col), pointRadius: 2, parsing: false, normalized: true }));
heatSets.push({ data: lowPoints, pointStyle: cellStamp(lowColor), pointRadius: 2, parsing: false, normalized: true });

new Chart(addCanvas(205, 520, 515, 467), {
  type: 'scatter',
  data: { datasets: heatSets },
  options: {
    responsive: false, animation: false, events: [],
    layout: { padding: { left: 4.7, right: 4.7, top: 6.3, bottom: 1.7 } },
    plugins: { legend: { display: false }, tooltip: { enabled: false } },
    scales: {
      x: fixedAxis(32, {
        type: 'linear', min: -0.5, max: nCols - 0.5,
        afterBuildTicks: setTicks(colLabels.map((_, i) => i)),
        grid: { display: false, drawTicks: false }, border: { display: false },
        ticks: { autoSkip: false, font: { size: 2.9, family: sans }, color: '#222', padding: 4, minRotation: 90, maxRotation: 90, callback: v => colLabels[v] }
      }),
      y: fixedAxis(50, {
        type: 'linear', position: 'right', reverse: true, min: -0.5, max: nRows - 0.5,
        afterBuildTicks: setTicks(rowLabels.map((_, i) => i)),
        grid: { display: false, drawTicks: false }, border: { display: false },
        ticks: { autoSkip: false, font: { size: 2.8, family: sans }, color: '#111', padding: 4, callback: v => rowLabels[v] }
      })
    }
  }
});
</script>
</body>
</html>
